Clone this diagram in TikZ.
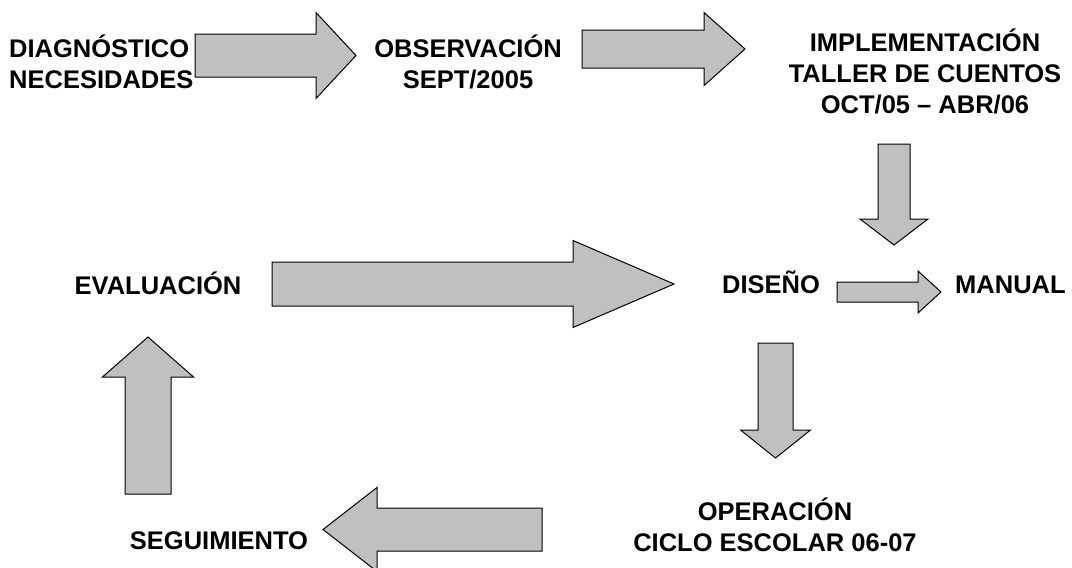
\documentclass[tikz,border=0pt]{standalone}
\usepackage{fontspec}
\setmainfont{Liberation Sans}
\usetikzlibrary{calc}

% block arrow: tail, tip, half shaft, half head, head length
\newcommand{\blockarrow}[5]{%
\path ($(#2)!#5!(#1)$) coordinate (hb);
\draw[ArrowStyle] ($(#1)!#3!90:(#2)$) -- ($(hb)!#3!-90:(#1)$) -- ($(hb)!#4!-90:(#1)$) -- (#2)
 -- ($(hb)!#4!90:(#1)$) -- ($(hb)!#3!90:(#1)$) -- ($(#1)!#3!-90:(#2)$) -- cycle;}

\begin{document}
\begin{tikzpicture}[x = 1pt, y = -1pt]
\tikzstyle{ArrowStyle} = [draw = black, line width = 1pt, line join = miter, fill = {rgb,255:red,192; green,192; blue,192}]
\tikzstyle{LabelStyle} = [inner sep = 0pt, font = \fontsize{25.5}{30.6}\selectfont\bfseries]
\useasboundingbox (0,0) rectangle (1072,568);
\node[LabelStyle, anchor = base west, align = left] (diag) at (9,88) {DIAGNÓSTICO\\NECESIDADES};
\node[LabelStyle, anchor = base, align = center] (obs) at (468,88) {OBSERVACIÓN\\SEPT/2005};
\node[LabelStyle, anchor = base, align = center] (impl) at (925,113) {IMPLEMENTACIÓN\\TALLER DE CUENTOS\\OCT/05 – ABR/06};
\node[LabelStyle, anchor = base] (eval) at (158,294) {EVALUACIÓN};
\node[LabelStyle, anchor = base] (dis) at (771,293) {DISEÑO};
\node[LabelStyle, anchor = base west] (man) at (955,293) {MANUAL};
\node[LabelStyle, anchor = base, align = center] (oper) at (775,551) {OPERACIÓN\\CICLO ESCOLAR 06-07};
\node[LabelStyle, anchor = base] (seg) at (219,549) {SEGUIMIENTO};
\coordinate (a1s) at (195,55.5);  \coordinate (a1e) at (356,55.5);
\coordinate (a2s) at (582,49);    \coordinate (a2e) at (745,49);
\coordinate (a3s) at (894,144);   \coordinate (a3e) at (894,245);
\coordinate (a4s) at (272,284);   \coordinate (a4e) at (674,284);
\coordinate (a5s) at (837,292);   \coordinate (a5e) at (941,292);
\coordinate (a6s) at (775.5,343); \coordinate (a6e) at (775.5,458);
\coordinate (a7s) at (542,529.5); \coordinate (a7e) at (323,529.5);
\coordinate (a8s) at (148,494);   \coordinate (a8e) at (148,337);
\blockarrow{a1s}{a1e}{21.5pt}{43pt}{40pt}
\blockarrow{a2s}{a2e}{19pt}{36.5pt}{41pt}
\blockarrow{a3s}{a3e}{16pt}{34pt}{26pt}
\blockarrow{a4s}{a4e}{22pt}{43.5pt}{101pt}
\blockarrow{a5s}{a5e}{10pt}{21pt}{23pt}
\blockarrow{a6s}{a6e}{17.5pt}{35pt}{28pt}
\blockarrow{a7s}{a7e}{21.5pt}{42pt}{54pt}
\blockarrow{a8s}{a8e}{23pt}{45.5pt}{40pt}
\end{tikzpicture}
\end{document}
